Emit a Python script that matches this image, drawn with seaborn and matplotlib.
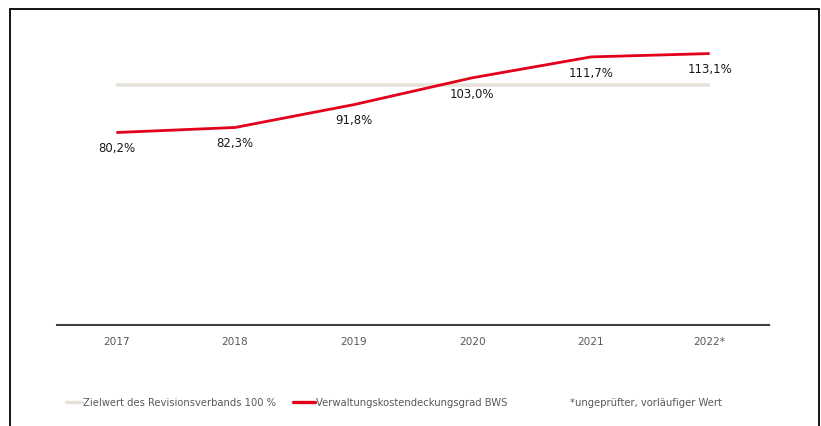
import matplotlib
matplotlib.use("Agg")
import matplotlib.pyplot as plt
import matplotlib.patches as mpatches
from matplotlib.lines import Line2D
import seaborn as sns
import pandas as pd

years = ["2017", "2018", "2019", "2020", "2021", "2022*"]
coverage = [80.2, 82.3, 91.8, 103.0, 111.7, 113.1]
target = [100, 100, 100, 100, 100, 100]
target_label = "Zielwert des Revisionsverbands 100 %"
coverage_label = "Verwaltungskostendeckungsgrad BWS"
note = "*ungeprüfter, vorläufiger Wert"

RED = "#E3001B"
BEIGE = "#E6E1D9"
GREY_TXT = "#595959"

sns.set_style("white")
plt.rcParams["font.family"] = ["DejaVu Sans"]

W, H = 821, 427
fig = plt.figure(figsize=(W / 100, H / 100), dpi=100)

ax_left, ax_right = 57, 769
ax_bottom_px = 326
ymax = 130
px_per_unit = 2.4
ax_top_px = ax_bottom_px - ymax * px_per_unit
ax = fig.add_axes([ax_left / W, 1 - ax_bottom_px / H,
                   (ax_right - ax_left) / W, (ax_bottom_px - ax_top_px) / H])

df = pd.DataFrame({"Jahr": years, "Ziel": target, "Grad": coverage})
df["pos"] = range(len(years))

sns.lineplot(data=df, x="pos", y="Ziel", ax=ax, color=BEIGE, linewidth=2.6,
             solid_capstyle="butt", zorder=2)
sns.lineplot(data=df, x="pos", y="Grad", ax=ax, color=RED, linewidth=2.0,
             solid_capstyle="butt", zorder=3)

for i, v in enumerate(coverage):
    ax.annotate(f"{v:.1f}%".replace(".", ","), (i, v), xytext=(0, -11),
                textcoords="offset points", ha="center", va="center",
                fontsize=8.5, color="#1a1a1a")

ax.set_xlim(-0.5, len(years) - 0.5)
ax.set_ylim(0, ymax)
ax.set_xticks(range(len(years)))
ax.set_xticklabels(years, fontsize=7.6, color=GREY_TXT)
ax.tick_params(axis="x", length=0, pad=8)
ax.set_yticks([])
ax.set_xlabel("")
ax.set_ylabel("")
for side in ["top", "left", "right"]:
    ax.spines[side].set_visible(False)
ax.spines["bottom"].set_color("#404040")
ax.spines["bottom"].set_linewidth(1.5)
ax.patch.set_alpha(0)

# legend entries, each placed on its own
for color, label, x0, hl in [(BEIGE, target_label, 66, 1.6), (RED, coverage_label, 293, 2.2)]:
    leg = fig.legend([Line2D([], [], color=color, linewidth=2.4)], [label],
                     loc="center left", bbox_to_anchor=(x0 / W, 1 - 403 / H),
                     frameon=False, handlelength=hl, handletextpad=0.1,
                     borderaxespad=0, borderpad=0, fontsize=7.2)
    for t in leg.get_texts():
        t.set_color(GREY_TXT)
fig.text(570 / W, 1 - 403 / H, note, ha="left", va="center",
         color=GREY_TXT, fontsize=7.2)

# outer frame
frame = mpatches.Rectangle((10 / W, -0.05), (819 - 10) / W, (1 - 10 / H) + 0.05,
                           transform=fig.transFigure, fill=False,
                           edgecolor="black", linewidth=1.3, zorder=10)
fig.patches.append(frame)

fig.savefig("out.png", dpi=100)
